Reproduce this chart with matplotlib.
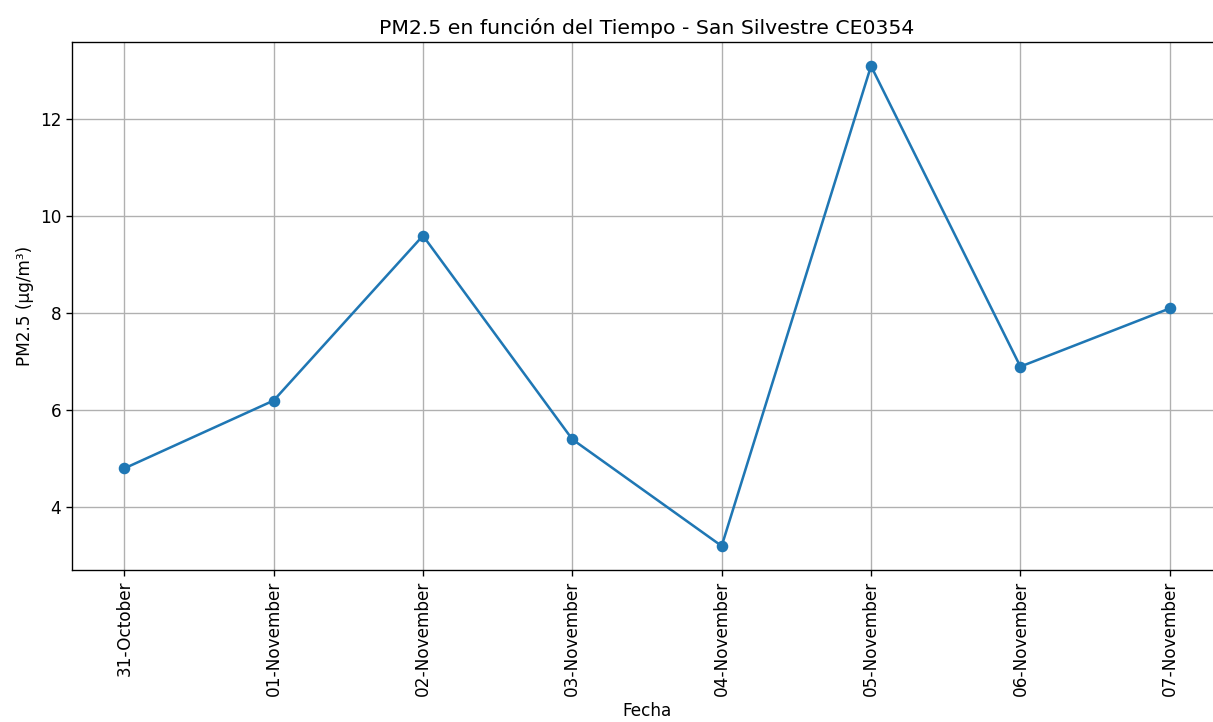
import matplotlib
matplotlib.use("Agg")
import matplotlib.pyplot as plt

# daily PM2.5 readings, San Silvestre CE0354
fechas = ["31-October", "01-November", "02-November", "03-November",
          "04-November", "05-November", "06-November", "07-November"]
pm25 = [4.8, 6.2, 9.6, 5.4, 3.2, 13.1, 6.9, 8.1]

# the reference was rendered ~1.22x larger and cropped on the right
S = 1.22
plt.rcParams.update({"font.size": 10 * S, "lines.linewidth": 1.5 * S, "lines.markersize": 6 * S,
                     "axes.linewidth": 0.8 * S, "grid.linewidth": 0.8 * S,
                     "xtick.major.size": 3.5 * S, "ytick.major.size": 3.5 * S,
                     "xtick.major.width": 0.8 * S, "ytick.major.width": 0.8 * S})

fig, ax = plt.subplots(figsize=(12.13, 7.22), dpi=100)
ax.plot(fechas, pm25, marker="o", color="#1f77b4")
ax.set_title("PM2.5 en función del Tiempo - San Silvestre CE0354")
ax.set_xlabel("Fecha")
ax.set_ylabel("PM2.5 (µg/m³)")
ax.grid(True)
plt.setp(ax.get_xticklabels(), rotation=90)

fig.subplots_adjust(left=72 / 1213, right=1222 / 1213, top=1 - 42 / 722, bottom=1 - 570 / 722)
fig.savefig("out.png")
